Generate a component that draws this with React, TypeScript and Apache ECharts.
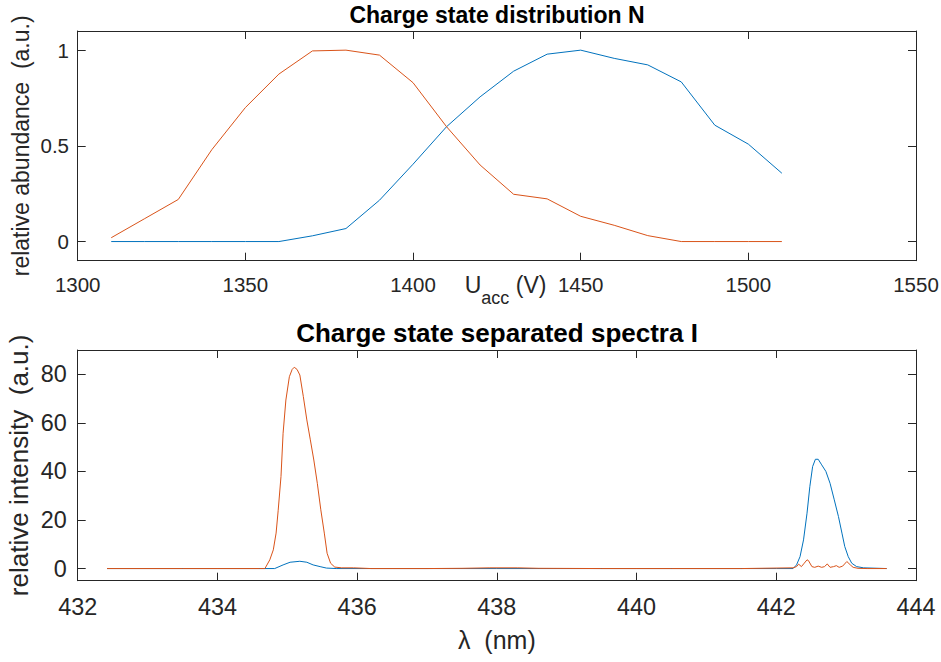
import React, { useEffect, useRef } from "react";
import * as echarts from "echarts";

// ---- Top panel: charge state distribution N ----
const voltages = [1310, 1320, 1330, 1340, 1350, 1360, 1370, 1380, 1390, 1400, 1410, 1420, 1430, 1440, 1450, 1460, 1470, 1480, 1490, 1500, 1510];
const distBlue = [0, 0, 0, 0, 0, 0, 0.03, 0.068, 0.216, 0.404, 0.6, 0.756, 0.89, 0.979, 1.0, 0.957, 0.923, 0.834, 0.608, 0.509, 0.357];
const distOrange = [0.02, 0.12, 0.22, 0.48, 0.7, 0.875, 0.996, 1.0, 0.974, 0.83, 0.6, 0.4, 0.247, 0.223, 0.132, 0.085, 0.031, 0, 0, 0, 0];
const topXTicks = { min: 1300, max: 1550, interval: 50 };
const topYTicks = [0, 0.5, 1];

// ---- Bottom panel: charge state separated spectra I ----
const lambdaBlue = [432.42, 434.0, 434.82, 434.94, 435.04, 435.18, 435.28, 435.37, 435.47, 435.56, 435.7, 436.5, 438.0, 440.0, 442.0, 442.24, 442.29, 442.34, 442.39, 442.44, 442.48, 442.52, 442.56, 442.6, 442.65, 442.71, 442.77, 442.83, 442.89, 442.94, 442.98, 443.03, 443.08, 443.15, 443.25, 443.58];
const intensityBlue = [0, 0, 0, 1.5, 2.6, 3.0, 2.6, 1.5, 0.8, 0.2, 0, 0, 0, 0, 0, 0, 1.5, 4.9, 11.8, 22.8, 33.7, 42, 45, 45, 42.7, 40, 35.1, 28.3, 21.4, 14.6, 9.1, 4.9, 2.2, 0.8, 0.3, 0];
const lambdaOrange = [432.42, 433.5, 434.6, 434.68, 434.75, 434.8, 434.84, 434.87, 434.91, 434.94, 434.98, 435.03, 435.07, 435.1, 435.14, 435.18, 435.23, 435.28, 435.33, 435.38, 435.43, 435.48, 435.53, 435.57, 435.62, 435.68, 435.78, 435.95, 436.2, 437.0, 437.5, 437.9, 438.3, 438.6, 439.5, 440.5, 441.5, 442.24, 442.29, 442.32, 442.36, 442.4, 442.44, 442.46, 442.51, 442.55, 442.6, 442.65, 442.69, 442.73, 442.77, 442.82, 442.86, 442.9, 442.95, 443.01, 443.06, 443.1, 443.17, 443.3, 443.58];
const intensityOrange = [0, 0, 0, 0, 3.6, 7.7, 14.6, 24, 37.9, 55.7, 69.4, 79, 82, 82.9, 82, 79.7, 70.8, 61.2, 53, 44.7, 35.1, 24.2, 14.6, 6.3, 2.2, 0.6, 0.3, 0.3, 0, 0, 0.1, 0.3, 0.3, 0.1, 0, 0, 0, 0.3, 0.8, 1.8, 0.8, 2.2, 3.6, 3.3, 0.8, 0.5, 1.0, 0.5, 0.8, 1.9, 0.5, 0.8, 1.2, 0.5, 1.0, 2.9, 1.5, 0.5, 0.1, 0, 0];
const bottomXTicks = { min: 432, max: 444, interval: 2 };
const bottomYTicks = [0, 20, 40, 60, 80];

const BLUE = "#0072BD";
const ORANGE = "#D95319";
const AX = "#262626";
const FONT = "'Liberation Sans', Arial, Helvetica, sans-serif";

const zip = (xs: number[], ys: number[]) => xs.map((x, i) => [x, ys[i]]);
const plain = (v: number) => String(v);

function xAxisPair(gridIndex: number, t: { min: number; max: number; interval: number }, fontSize: number, margin: number, name: string, nameGap: number, nameStyle: any) {
  const common = {
    type: "value",
    gridIndex,
    min: t.min,
    max: t.max,
    interval: t.interval,
    splitLine: { show: false },
    axisLine: { show: true, onZero: false, lineStyle: { color: AX, width: 1 } },
    axisTick: { show: true, inside: true, length: 8, lineStyle: { color: AX, width: 1 } },
  };
  return [
    {
      ...common,
      position: "bottom",
      axisLabel: { show: true, color: AX, fontSize, fontFamily: FONT, margin, lineHeight: Math.round(fontSize + 1), showMinLabel: true, showMaxLabel: true, formatter: plain },
      name,
      nameLocation: "middle",
      nameGap,
      nameMoveOverlap: false,
      nameTextStyle: nameStyle,
    },
    { ...common, position: "top", axisLabel: { show: false } },
  ];
}

function yAxisPair(gridIndex: number, min: number, max: number, ticks: number[], fontSize: number, margin: number, name: string, nameGap: number, nameFont: number) {
  const common = {
    type: "value",
    gridIndex,
    min,
    max,
    splitLine: { show: false },
    axisLine: { show: true, onZero: false, lineStyle: { color: AX, width: 1 } },
    axisTick: { show: true, inside: true, length: 8, customValues: ticks, lineStyle: { color: AX, width: 1 } },
  };
  return [
    {
      ...common,
      position: "left",
      axisLabel: { show: true, color: AX, fontSize, fontFamily: FONT, margin, customValues: ticks, formatter: plain },
      name,
      nameLocation: "middle",
      nameRotate: 90,
      nameGap,
      nameMoveOverlap: false,
      nameTextStyle: { color: AX, fontSize: nameFont, fontFamily: FONT, lineHeight: nameFont + 1 },
    },
    { ...common, position: "right", axisLabel: { show: false } },
  ];
}

export default function App() {
  const ref = useRef<HTMLDivElement>(null);
  useEffect(() => {
    if (!ref.current) return;
    const chart = echarts.init(ref.current, null, { renderer: "svg" });
    const topX = xAxisPair(0, topXTicks, 20.5, 12.4, "{u|U}{s|acc}{u| (V)}{h| }", 12.8, {
      color: AX,
      fontFamily: FONT,
      padding: [0, 0, 0, 18],
      rich: {
        u: { fontSize: 23, lineHeight: 24, verticalAlign: "top", color: AX, fontFamily: FONT },
        s: { fontSize: 18, lineHeight: 18, verticalAlign: "bottom", color: AX, fontFamily: FONT },
        h: { fontSize: 2, lineHeight: 33, verticalAlign: "bottom" },
      },
    });
    const botX = xAxisPair(1, bottomXTicks, 23.4, 14.3, "λ  (nm)", 45.8, {
      color: AX,
      fontFamily: FONT,
      fontSize: 25,
      lineHeight: 26,
    });
    const topY = yAxisPair(0, -0.1, 1.1, topYTicks, 20.5, 8.7, "relative abundance  (a.u.)", 45.2, 23);
    const botY = yAxisPair(1, -5, 90, bottomYTicks, 23.4, 11, "relative intensity  (a.u.)", 45.4, 26);

    chart.setOption({
      animation: false,
      backgroundColor: "#ffffff",
      title: [
        {
          text: "Charge state distribution N",
          left: 497,
          top: 2.7,
          textAlign: "center",
          padding: 0,
          textStyle: { fontSize: 23, fontWeight: "bold", color: "#000", fontFamily: FONT, lineHeight: 24 },
        },
        {
          text: "Charge state separated spectra I",
          left: 497,
          top: 319.2,
          textAlign: "center",
          padding: 0,
          textStyle: { fontSize: 26, fontWeight: "bold", color: "#000", fontFamily: FONT, lineHeight: 27 },
        },
      ],
      grid: [
        { left: 77.7, top: 31, width: 838.3, height: 229.7, outerBoundsMode: "none", containLabel: false },
        { left: 77.7, top: 350, width: 838.3, height: 230.7, outerBoundsMode: "none", containLabel: false },
      ],
      xAxis: [...topX, ...botX],
      yAxis: [...topY, ...botY],
      series: [
        { type: "line", xAxisIndex: 0, yAxisIndex: 0, data: zip(voltages, distBlue), showSymbol: false, symbol: "none", lineStyle: { color: BLUE, width: 1 }, silent: true },
        { type: "line", xAxisIndex: 0, yAxisIndex: 0, data: zip(voltages, distOrange), showSymbol: false, symbol: "none", lineStyle: { color: ORANGE, width: 1 }, silent: true },
        { type: "line", xAxisIndex: 2, yAxisIndex: 2, data: zip(lambdaBlue, intensityBlue), showSymbol: false, symbol: "none", lineStyle: { color: BLUE, width: 1 }, silent: true },
        { type: "line", xAxisIndex: 2, yAxisIndex: 2, data: zip(lambdaOrange, intensityOrange), showSymbol: false, symbol: "none", lineStyle: { color: ORANGE, width: 1 }, silent: true },
      ],
    });
    return () => chart.dispose();
  }, []);
  return <div ref={ref} style={{ position: "absolute", left: 0, top: 0, width: 941, height: 662 }} />;
}
